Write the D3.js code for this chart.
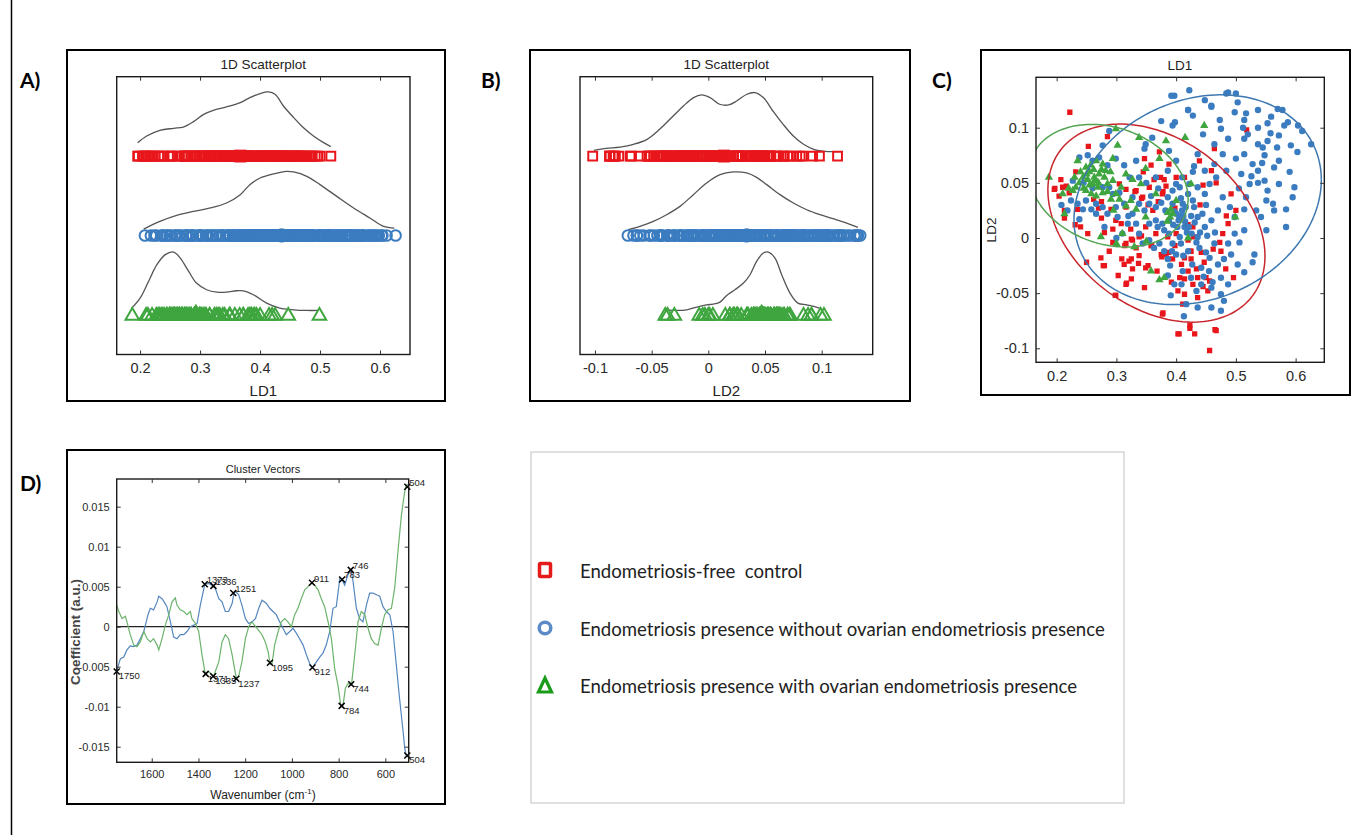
<!DOCTYPE html>
<html>
<head>
<meta charset="utf-8">
<script src="https://cdn.jsdelivr.net/npm/d3@7"></script>
<style>
  body { margin: 0; background: #fff; }
  svg { display: block; }
  text { font-family: "Liberation Sans", Arial, sans-serif; }
</style>
</head>
<body>
<svg id="fig" width="1354" height="835"></svg>
<script>
// ---- data ----
const groupNames = ['Endometriosis-free  control',
  'Endometriosis presence without ovarian endometriosis presence',
  'Endometriosis presence with ovarian endometriosis presence']

// LD scores [LD1, LD2] per class
const redLD = [[0.222,0.114],[0.196,0.044],[0.207,0.053],[0.210,0.046],[0.216,0.047],[0.221,0.041],[0.204,0.038],[0.232,0.060],[0.235,0.026],[0.213,0.025],[0.252,0.004],[0.280,0.005],[0.274,-0.018],[0.280,-0.025],[0.299,-0.052],[0.316,-0.042],[0.313,-0.024],[0.321,-0.021],[0.327,-0.028],[0.338,-0.016],[0.349,-0.027],[0.347,-0.045],[0.316,-0.005],[0.308,0.013],[0.299,0.016],[0.294,0.008],[0.291,0.026],[0.305,0.049],[0.316,0.044],[0.333,0.043],[0.344,0.037],[0.355,0.046],[0.363,0.053],[0.374,0.055],[0.380,0.053],[0.383,0.047],[0.347,0.072],[0.358,0.066],[0.372,0.078],[0.388,0.067],[0.400,0.055],[0.377,0.040],[0.361,0.025],[0.349,0.010],[0.366,0.004],[0.375,-0.015],[0.383,-0.015],[0.394,-0.019],[0.386,0.001],[0.400,0.004],[0.377,-0.069],[0.405,-0.087],[0.327,-0.002],[0.333,-0.009],[0.324,0.008],[0.338,0.001],[0.358,-0.007],[0.294,-0.004],[0.316,0.028],
  [0.518,0.098],[0.464,0.081],[0.439,0.070],[0.414,0.055],[0.459,0.061],[0.467,0.050],[0.484,0.020],[0.487,0.013],[0.478,0.004],[0.473,-0.004],[0.492,0.040],[0.428,0.010],[0.420,-0.002],[0.425,-0.012],[0.414,-0.018],[0.409,-0.024],[0.425,-0.019],[0.420,-0.030],[0.434,-0.028],[0.450,-0.036],[0.456,-0.039],[0.445,-0.044],[0.453,-0.048],[0.436,-0.054],[0.414,-0.051],[0.411,-0.060],[0.423,-0.079],[0.431,-0.087],[0.403,-0.087],[0.467,-0.084],[0.456,-0.102],[0.496,-0.036],[0.475,-0.012],[0.423,-0.012],[0.406,-0.036],[0.403,-0.048],[0.414,-0.037],[0.436,-0.036],[0.428,-0.042],[0.442,-0.013],
  [0.197,0.045],[0.213,0.018],[0.231,0.012],[0.250,-0.022],[0.278,-0.025],[0.303,-0.034],[0.298,-0.052],[0.317,-0.041],[0.325,-0.037],[0.353,-0.025],[0.378,-0.068],[0.423,-0.082],[0.465,-0.083],[0.331,0.042],[0.342,0.036],[0.353,0.030],[0.370,0.033],[0.378,0.042],[0.398,0.027],[0.409,0.018],[0.420,0.012],[0.429,0.001],[0.398,-0.007],[0.387,-0.013],[0.376,-0.017],[0.359,-0.007],[0.342,0.002],[0.325,-0.001],[0.314,-0.007],[0.309,-0.019],[0.325,-0.019],[0.337,-0.023],[0.270,0.027],[0.275,0.033],[0.275,0.018],[0.253,0.083],[0.285,0.092],[0.440,0.030],[0.500,0.025],
  [0.240,0.010],[0.262,0.035],[0.288,-0.012],[0.345,0.060],[0.368,-0.030],[0.392,-0.040],[0.447,-0.022],[0.462,-0.010],[0.483,-0.028],[0.445,0.048]]

const blueLD = [[0.397,0.129],[0.375,0.106],[0.394,0.102],[0.288,0.097],[0.277,0.084],[0.299,0.072],[0.271,0.073],[0.260,0.070],[0.252,0.075],[0.238,0.073],[0.285,0.066],[0.313,0.066],[0.333,0.070],[0.349,0.085],[0.360,0.091],[0.347,0.081],[0.388,0.079],[0.400,0.070],[0.386,0.061],[0.366,0.055],[0.338,0.055],[0.322,0.055],[0.305,0.041],[0.294,0.040],[0.288,0.046],[0.277,0.046],[0.266,0.031],[0.249,0.034],[0.235,0.031],[0.244,0.026],[0.224,0.034],[0.227,0.052],[0.218,0.025],[0.266,0.022],[0.277,0.028],[0.285,0.022],[0.299,0.028],[0.313,0.031],[0.327,0.037],[0.338,0.031],[0.347,0.025],[0.355,0.031],[0.366,0.028],[0.375,0.032],[0.386,0.037],[0.394,0.043],[0.400,0.049],[0.394,0.031],[0.400,0.022],[0.388,0.016],[0.377,0.013],[0.366,0.016],[0.355,0.013],[0.333,0.013],[0.319,0.013],[0.310,0.004],[0.302,0.019],[0.327,0.022],[0.338,0.004],[0.344,-0.005],[0.355,-0.002],[0.363,-0.009],[0.372,-0.005],[0.380,-0.012],[0.386,-0.019],[0.394,-0.005],[0.400,-0.015],[0.388,0.004],[0.380,0.007],[0.386,-0.034],[0.397,-0.042],[0.391,-0.052],[0.238,0.017],[0.258,0.026],[0.208,0.030],
  [0.422,0.134],[0.484,0.131],[0.500,0.131],[0.503,0.123],[0.459,0.119],[0.420,0.116],[0.428,0.111],[0.498,0.114],[0.517,0.113],[0.537,0.116],[0.570,0.117],[0.578,0.116],[0.559,0.110],[0.581,0.102],[0.587,0.105],[0.604,0.102],[0.626,0.085],[0.537,0.100],[0.512,0.100],[0.520,0.094],[0.475,0.099],[0.445,0.094],[0.487,0.090],[0.537,0.085],[0.545,0.082],[0.553,0.088],[0.572,0.093],[0.569,0.082],[0.572,0.070],[0.564,0.064],[0.590,0.060],[0.548,0.075],[0.528,0.067],[0.514,0.076],[0.500,0.072],[0.478,0.076],[0.464,0.067],[0.448,0.061],[0.428,0.060],[0.509,0.058],[0.523,0.049],[0.537,0.050],[0.572,0.049],[0.598,0.046],[0.595,0.037],[0.553,0.043],[0.551,0.034],[0.562,0.031],[0.564,0.025],[0.584,0.010],[0.551,0.007],[0.531,-0.015],[0.528,-0.022],[0.514,-0.031],[0.503,-0.024],[0.492,-0.015],[0.487,-0.005],[0.506,-0.004],[0.514,0.007],[0.498,0.019],[0.514,0.026],[0.534,0.025],[0.470,0.025],[0.459,0.016],[0.448,0.010],[0.436,0.001],[0.464,-0.005],[0.480,-0.019],[0.456,-0.018],[0.470,-0.024],[0.475,-0.036],[0.487,-0.042],[0.459,-0.045],[0.475,-0.051],[0.480,-0.057],[0.459,-0.063],[0.436,-0.063],[0.475,-0.066],[0.417,-0.060],[0.425,-0.036],[0.442,-0.027],[0.428,0.034],[0.411,0.031],[0.406,0.046],[0.422,0.049],[0.436,0.046],[0.448,0.040],[0.456,0.049],[0.436,0.019],[0.414,0.010],[0.406,0.001],[0.420,-0.012],[0.439,-0.009],[0.450,-0.013],[0.411,-0.030],[0.409,-0.042],[0.442,-0.042],[0.434,-0.048],[0.498,0.004],[0.542,0.019],[0.517,0.037],[0.478,0.037],[0.467,0.055],[0.484,0.061],[0.537,0.061],[0.548,0.052],[0.584,0.026],[0.514,0.090],[0.464,0.085],[0.436,0.076],[0.473,0.107],[0.514,0.107],[0.553,0.104],[0.413,-0.071],
  [0.405,0.020],[0.410,0.025],[0.415,0.015],[0.418,0.005],[0.402,0.010],[0.395,0.012],[0.408,-0.005],[0.425,0.020],[0.430,0.028],[0.420,0.040],[0.410,0.055],[0.430,0.065],[0.450,0.030],[0.440,0.005],[0.455,-0.030],[0.465,0.005],[0.390,-0.025],[0.370,0.045],[0.350,0.050],[0.320,0.020],[0.300,0.000],[0.280,0.010],[0.260,0.045],[0.245,0.050],[0.392,0.129],[0.398,0.105],[0.420,0.116],[0.448,0.125],[0.459,0.120],[0.487,0.132],[0.611,0.097],[0.603,0.078],
  [0.404,0.016],[0.412,0.020],[0.416,0.028],[0.421,0.010],[0.426,0.004],[0.397,0.024],[0.408,0.036],[0.431,0.014],[0.434,-0.004],[0.444,0.022],[0.452,0.002],[0.393,-0.012],[0.412,-0.016],[0.427,-0.024],[0.446,-0.035],[0.461,-0.040],[0.490,0.028],[0.505,0.045],[0.526,0.056],[0.544,0.068],[0.558,0.095],[0.592,0.084],[0.382,0.025],[0.369,0.010],[0.358,0.038]]

const greenLD = [[0.187,0.055],[0.235,0.070],[0.249,0.064],[0.257,0.066],[0.266,0.070],[0.277,0.067],[0.282,0.061],[0.294,0.072],[0.302,0.084],[0.299,0.099],[0.338,0.091],[0.383,0.088],[0.372,0.072],[0.349,0.063],[0.341,0.049],[0.327,0.053],[0.316,0.058],[0.308,0.046],[0.299,0.040],[0.291,0.035],[0.277,0.041],[0.269,0.046],[0.260,0.049],[0.252,0.053],[0.244,0.055],[0.238,0.050],[0.232,0.046],[0.227,0.043],[0.255,0.060],[0.263,0.055],[0.271,0.058],[0.280,0.055],[0.285,0.049],[0.294,0.052],[0.266,0.038],[0.249,0.043],[0.213,0.022],[0.274,0.001],[0.316,0.029],[0.324,0.034],[0.333,0.026],[0.349,0.019],[0.366,0.040],[0.386,0.023],[0.391,0.026],[0.394,0.022],[0.358,-0.030],[0.380,-0.036],[0.400,0.034],[0.447,0.102],[0.415,0.091],[0.499,0.019],[0.425,0.049],
  [0.245,0.045],[0.255,0.048],[0.262,0.062],[0.270,0.050],[0.275,0.062],[0.258,0.040],[0.240,0.060],[0.230,0.055],[0.285,0.042],[0.290,0.060],[0.250,0.058],[0.265,0.052],[0.220,0.045],[0.210,0.040],[0.295,0.025],[0.305,0.035],[0.390,0.019],[0.385,0.015],[0.300,-0.005],[0.420,0.000],[0.330,-0.008],[0.350,-0.003],[0.310,0.004],[0.372,-0.038]]

// group means [LD1, LD2]
const meanLD = [[0.367, 0.0138], [0.436, 0.0338], [0.293, 0.047]]

// density curves: [score, height above the strip]
const densLD1 = [
  [[0.196,0.169],[0.211,0.253],[0.233,0.325],[0.256,0.350],[0.272,0.366],[0.289,0.434],[0.306,0.526],[0.322,0.577],[0.344,0.619],[0.367,0.674],[0.383,0.737],[0.400,0.788],[0.414,0.808],[0.425,0.779],[0.439,0.631],[0.456,0.485],[0.472,0.359],[0.489,0.253],[0.506,0.169],[0.518,0.119]],
  [[0.206,0.080],[0.233,0.177],[0.261,0.253],[0.289,0.303],[0.317,0.346],[0.344,0.409],[0.367,0.514],[0.383,0.640],[0.400,0.724],[0.422,0.775],[0.444,0.808],[0.456,0.800],[0.478,0.745],[0.500,0.640],[0.528,0.492],[0.556,0.346],[0.583,0.220],[0.606,0.114],[0.624,0.093]],
  [[0.186,0.084],[0.200,0.210],[0.214,0.420],[0.228,0.631],[0.242,0.758],[0.256,0.791],[0.267,0.715],[0.281,0.547],[0.294,0.400],[0.311,0.316],[0.328,0.286],[0.344,0.286],[0.361,0.303],[0.372,0.303],[0.389,0.253],[0.411,0.147],[0.433,0.084],[0.456,0.063],[0.478,0.055],[0.497,0.055]]]
const densLD2 = [
  [[-0.101,0.072],[-0.090,0.097],[-0.078,0.114],[-0.066,0.148],[-0.054,0.211],[-0.043,0.337],[-0.031,0.505],[-0.022,0.631],[-0.013,0.737],[-0.006,0.770],[0.0015,0.737],[0.010,0.653],[0.018,0.644],[0.025,0.694],[0.034,0.779],[0.041,0.800],[0.0485,0.737],[0.057,0.568],[0.066,0.400],[0.075,0.253],[0.084,0.148],[0.093,0.085],[0.101,0.063],[0.112,0.055]],
  [[-0.0706,0.072],[-0.0603,0.114],[-0.0485,0.177],[-0.0368,0.261],[-0.025,0.366],[-0.0132,0.514],[-0.0015,0.661],[0.0103,0.766],[0.022,0.800],[0.0338,0.787],[0.0426,0.732],[0.0515,0.640],[0.0632,0.514],[0.075,0.409],[0.0868,0.324],[0.0985,0.261],[0.110,0.211],[0.122,0.156],[0.132,0.101]],
  [[-0.0368,0.063],[-0.028,0.055],[-0.019,0.063],[-0.0103,0.097],[-0.0015,0.126],[0.0044,0.135],[0.0103,0.160],[0.0162,0.244],[0.0235,0.316],[0.031,0.400],[0.0368,0.505],[0.0426,0.673],[0.0485,0.779],[0.053,0.791],[0.0588,0.715],[0.0647,0.505],[0.072,0.274],[0.079,0.147],[0.0868,0.126],[0.093,0.105],[0.100,0.076]]]

// confidence ellipses: centre, half-width, half-height, LD2 offset at rightmost point
const ellCentre = [[0.367, 0.0135], [0.436, 0.0347], [0.287, 0.0474]]
const ellRx = [0.1817, 0.207, 0.133]
const ellRy = [0.0898, 0.0951, 0.0556]
const ellDy = [-0.03, 0.018, -0.012]

// cluster vectors [wavenumber, coefficient]
const blueSpec = [[1750,-0.0055],[1734,-0.0040],[1720,-0.0038],[1706,-0.0029],[1692,-0.0024],[1677,-0.0025],[1663,-0.0023],[1649,-0.0015],[1634,-0.0006],[1627,0.0002],[1616,0.0015],[1606,0.0023],[1592,0.0021],[1577,0.0031],[1570,0.0038],[1556,0.0035],[1549,0.0032],[1535,0.0025],[1520,0.0006],[1506,-0.0013],[1492,-0.0015],[1478,-0.0010],[1463,-0.0010],[1449,-0.0006],[1435,0.0000],[1420,0.0002],[1406,0.0004],[1392,0.0027],[1373,0.0053],[1356,0.0054],[1342,0.0052],[1328,0.0048],[1313,0.0035],[1299,0.0031],[1285,0.0019],[1271,0.0019],[1256,0.0029],[1248,0.0042],[1242,0.0044],[1228,0.0040],[1214,0.0027],[1199,0.0010],[1185,0.0004],[1171,0.0006],[1156,0.0010],[1142,0.0023],[1128,0.0033],[1109,0.0029],[1095,0.0023],[1081,0.0019],[1067,0.0015],[1052,0.0006],[1038,-0.0002],[1024,-0.0010],[1009,-0.0006],[995,-0.0002],[981,-0.0008],[967,-0.0015],[952,-0.0023],[938,-0.0035],[924,-0.0046],[912,-0.0051],[895,-0.0044],[881,-0.0038],[867,-0.0033],[853,-0.0023],[838,-0.0006],[824,0.0023],[810,0.0025],[795,0.0060],[788,0.0060],[774,0.0052],[760,0.0065],[746,0.0071],[738,0.0056],[724,0.0023],[710,0.0010],[696,0.0006],[681,0.0027],[667,0.0042],[653,0.0042],[638,0.0040],[624,0.0038],[610,0.0025],[596,0.0019],[581,0.0015],[567,-0.0006],[553,-0.0048],[539,-0.0090],[524,-0.0131],[517,-0.0152],[510,-0.0162],[504,-0.0163]]
const greenSpec = [[1750,0.0027],[1741,0.0019],[1727,0.0010],[1713,0.0013],[1706,0.0006],[1692,-0.0010],[1677,-0.0023],[1663,-0.0025],[1649,-0.0019],[1634,-0.0006],[1620,-0.0015],[1606,-0.0019],[1592,-0.0015],[1577,-0.0023],[1570,-0.0029],[1556,-0.0015],[1542,0.0002],[1527,0.0015],[1513,0.0031],[1499,0.0036],[1492,0.0027],[1478,0.0021],[1463,0.0019],[1449,0.0015],[1435,0.0019],[1428,0.0010],[1413,0.0004],[1399,-0.0006],[1385,-0.0035],[1371,-0.0059],[1356,-0.0056],[1342,-0.0060],[1335,-0.0062],[1328,-0.0056],[1313,-0.0044],[1299,-0.0019],[1285,-0.0010],[1271,-0.0015],[1256,-0.0035],[1242,-0.0058],[1237,-0.0065],[1228,-0.0062],[1214,-0.0044],[1199,-0.0015],[1185,0.0000],[1171,0.0006],[1149,-0.0002],[1128,-0.0010],[1114,-0.0019],[1102,-0.0031],[1093,-0.0047],[1085,-0.0046],[1074,-0.0023],[1059,-0.0006],[1045,0.0006],[1031,0.0010],[1017,0.0006],[1002,0.0000],[988,0.0015],[974,0.0023],[960,0.0035],[945,0.0046],[931,0.0050],[917,0.0055],[902,0.0052],[888,0.0046],[874,0.0035],[860,0.0025],[845,0.0006],[831,-0.0015],[817,-0.0052],[803,-0.0073],[791,-0.0098],[781,-0.0098],[771,-0.0077],[760,-0.0071],[745,-0.0073],[731,-0.0035],[717,0.0006],[703,0.0019],[688,0.0015],[674,-0.0002],[660,-0.0015],[646,-0.0021],[631,-0.0023],[617,-0.0002],[603,0.0015],[589,0.0021],[574,0.0023],[560,0.0048],[546,0.0094],[531,0.0140],[517,0.0169],[510,0.0177],[504,0.0178]]
const blueMarks = [[1750,-0.0056,'1750'],[1373,0.0053,'1373'],[1336,0.0051,'1336'],[1251,0.0042,'1251'],[912,-0.0051,'912'],[785,0.0059,'783'],[748,0.0071,'746'],[506,-0.0161,'504']]
const greenMarks = [[1369,-0.0059,'1371'],[1337,-0.0062,'1335'],[1238,-0.0065,'1237'],[1094,-0.0045,'1095'],[914,0.0055,'911'],[787,-0.0099,'784'],[746,-0.0072,'744'],[506,0.0175,'504']]

const ld1Ticks = [0.2, 0.3, 0.4, 0.5, 0.6]
const ld2Ticks = [-0.1, -0.05, 0, 0.05, 0.1]
const wnTicks = [1600, 1400, 1200, 1000, 800, 600]
const coefTicks = [-0.015, -0.01, -0.005, 0, 0.005, 0.01, 0.015]

// ---- drawing ----
const markColor = ['#e8161b', '#3b7cc0', '#3fa63f']
const ellColor = ['#c8262c', '#3d78b0', '#52a452']
const specColor = ['#5587bf', '#6cb36c']
const symbols = [d3.symbolSquare, d3.symbolCircle, d3.symbolTriangle]
const groupPos = [3, 2, 1]
const classes = [redLD, blueLD, greenLD]
const tickFmt = d => String(+d.toFixed(3))

const svg = d3.select('#fig')
svg.append('rect').attr('width', 1354).attr('height', 835).attr('fill', '#fff')
svg.append('line').attr('x1', 11.5).attr('x2', 11.5).attr('y1', 0).attr('y2', 835)
  .attr('stroke', '#000').attr('stroke-width', 1.5)

function outerBox(x0, y0, x1, y1) {
  svg.append('rect').attr('x', x0).attr('y', y0).attr('width', x1 - x0).attr('height', y1 - y0)
    .attr('fill', 'none').attr('stroke', '#000').attr('stroke-width', 2)
}

function letter(t, x, y) {
  svg.append('text').attr('x', x).attr('y', y).text(t)
    .style('font-family', 'Lato, sans-serif').style('font-weight', 700).style('font-size', '21px')
}

function innerBox(x, y) {
  const [x0, x1] = x.range(), [y1, y0] = y.range()
  svg.append('rect').attr('x', x0).attr('y', y0).attr('width', x1 - x0).attr('height', y1 - y0)
    .attr('fill', 'none').attr('stroke', '#1a1a1a').attr('stroke-width', 1.4)
}

function xAxes(x, y, ticks, fmt, fontSize) {
  const [y1, y0] = y.range()
  const bottom = svg.append('g').attr('transform', `translate(0,${y1})`)
    .call(d3.axisBottom(x).tickValues(ticks).tickSize(-4).tickPadding(8).tickFormat(fmt))
  bottom.select('.domain').remove()
  bottom.selectAll('text').style('font-size', fontSize).attr('fill', '#2a2a2a')
  bottom.selectAll('line').attr('stroke', '#333')
  const top = svg.append('g').attr('transform', `translate(0,${y0})`)
    .call(d3.axisTop(x).tickValues(ticks).tickSize(-4).tickFormat(''))
  top.select('.domain').remove()
  top.selectAll('line').attr('stroke', '#333')
}

function yAxes(x, y, ticks, fmt, fontSize) {
  const [x0, x1] = x.range()
  const left = svg.append('g').attr('transform', `translate(${x0},0)`)
    .call(d3.axisLeft(y).tickValues(ticks).tickSize(-4).tickPadding(7).tickFormat(fmt))
  left.select('.domain').remove()
  left.selectAll('text').style('font-size', fontSize).attr('fill', '#2a2a2a')
  left.selectAll('line').attr('stroke', '#333')
  const right = svg.append('g').attr('transform', `translate(${x1},0)`)
    .call(d3.axisRight(y).tickValues(ticks).tickSize(-4).tickFormat(''))
  right.select('.domain').remove()
  right.selectAll('line').attr('stroke', '#333')
}

function label(t, x, y, size, rotate) {
  const el = svg.append('text').attr('text-anchor', 'middle').attr('fill', '#222')
    .style('font-size', size).text(t)
  if (rotate) el.attr('transform', `translate(${x},${y}) rotate(-90)`)
  else el.attr('x', x).attr('y', y)
  return el
}

// 1D scatter panel (A and B)
function stripPanel(x, key, dens, xlab) {
  const y = d3.scaleLinear().domain([0.5, 4]).range([354.5, 76.7])
  const [x0, x1] = x.range()
  label('1D Scatterplot', (x0 + x1) / 2, 69, '13.5px')
  const sizes = [78, 88, 80]
  classes.forEach((pts, i) => {
    const base = groupPos[i]
    svg.append('path').datum(dens[i])
      .attr('fill', 'none').attr('stroke', '#555').attr('stroke-width', 1.3)
      .attr('d', d3.line().curve(d3.curveCatmullRom).x(d => x(d[0])).y(d => y(base + d[1])))
    svg.append('g').selectAll('path').data(pts).join('path')
      .attr('transform', d => `translate(${x(d[key])},${y(base) + (i === 2 ? 1 : 0)})`)
      .attr('d', d3.symbol(symbols[i], sizes[i]))
      .attr('fill', 'none').attr('stroke', markColor[i]).attr('stroke-width', 2)
  })
  classes.forEach((pts, i) => {
    svg.append('path')
      .attr('transform', `translate(${x(meanLD[i][key])},${y(groupPos[i])})`)
      .attr('d', d3.symbol(symbols[i], 140))
      .attr('fill', markColor[i]).attr('stroke', markColor[i])
  })
  innerBox(x, y)
  xAxes(x, y, key === 0 ? ld1Ticks : ld2Ticks, tickFmt, '14.5px')
  label(xlab, (x0 + x1) / 2, 396, '15px')
}

// Panel A
outerBox(67, 50, 445, 401)
letter('A)', 20, 88)
stripPanel(d3.scaleLinear().domain([0.161, 0.65]).range([116.7, 410]), 0, densLD1, 'LD1')

// Panel B
outerBox(530, 50, 910, 401)
letter('B)', 481, 88)
stripPanel(d3.scaleLinear().domain([-0.1132, 0.145]).range([580, 872.7]), 1, densLD2, 'LD2')

// Panel C
outerBox(981, 50, 1350, 395)
letter('C)', 932, 88)
{
  const x = d3.scaleLinear().domain([0.1654, 0.648]).range([1036, 1324.3])
  const y = d3.scaleLinear().domain([-0.1127, 0.1457]).range([362.3, 77.3])
  svg.append('clipPath').attr('id', 'clipC').append('rect')
    .attr('x', 1036).attr('y', 77.3).attr('width', 288.3).attr('height', 285)
  const g = svg.append('g').attr('clip-path', 'url(#clipC)')
  const sizes = [28, 32, 30]
  classes.forEach((pts, i) => {
    g.append('g').selectAll('path').data(pts).join('path')
      .attr('transform', d => `translate(${x(d[0])},${y(d[1])})`)
      .attr('d', d3.symbol(symbols[i], sizes[i]))
      .attr('fill', markColor[i])
  })
  const ts = d3.range(0, 2 * Math.PI + 0.01, Math.PI / 90)
  ellCentre.forEach((c, i) => {
    const k = Math.sqrt(ellRy[i] * ellRy[i] - ellDy[i] * ellDy[i])
    g.append('path').datum(ts)
      .attr('fill', 'none').attr('stroke', ellColor[i]).attr('stroke-width', 1.5)
      .attr('d', d3.line()
        .x(t => x(c[0] + ellRx[i] * Math.cos(t)))
        .y(t => y(c[1] + ellDy[i] * Math.cos(t) + k * Math.sin(t))))
  })
  innerBox(x, y)
  xAxes(x, y, ld1Ticks, tickFmt, '14.5px')
  yAxes(x, y, ld2Ticks, tickFmt, '14.5px')
  label('LD1', 1180, 70, '13.5px')
  label('LD2', 996, 230, '13.5px', true)
}

// Panel D
outerBox(67, 450, 445, 804)
letter('D)', 20, 491)
{
  const x = d3.scaleLinear().domain([1750, 500]).range([116.7, 408.7])
  const y = d3.scaleLinear().domain([-0.01695, 0.01846]).range([762.3, 479])
  svg.append('line').attr('x1', x.range()[0]).attr('x2', x.range()[1])
    .attr('y1', y(0)).attr('y2', y(0)).attr('stroke', '#222').attr('stroke-width', 1.3)
  ;[blueSpec, greenSpec].forEach((s, i) => {
    svg.append('path').datum(s)
      .attr('fill', 'none').attr('stroke', specColor[i]).attr('stroke-width', 1.2)
      .attr('d', d3.line().x(d => x(d[0])).y(d => y(d[1])))
  })
  const marks = svg.append('g')
  ;[blueMarks, greenMarks].forEach(list => {
    list.forEach(m => {
      const px = x(m[0]), py = y(m[1])
      marks.append('path').attr('d', `M${px - 3},${py - 3}L${px + 3},${py + 3}M${px - 3},${py + 3}L${px + 3},${py - 3}`)
        .attr('stroke', '#000').attr('stroke-width', 1.5)
      marks.append('text').attr('x', px + 2).attr('y', m[1] > 0 ? py - 1 : py + 8)
        .style('font-size', '9.5px').attr('fill', '#222').text(m[2])
    })
  })
  innerBox(x, y)
  xAxes(x, y, wnTicks, d3.format('d'), '11px')
  yAxes(x, y, coefTicks, tickFmt, '11px')
  label('Cluster Vectors', 263, 473, '11px')
  const xl = label('Wavenumber (cm', 263, 799, '12px')
  xl.append('tspan').attr('dy', -5).style('font-size', '8px').text('-1')
  xl.append('tspan').attr('dy', 5).text(')')
  label('Coefficient (a.u.)', 80, 632, '13.5px', true).style('font-weight', 700).attr('fill', '#444')
}

// Legend
svg.append('rect').attr('x', 531).attr('y', 452).attr('width', 593).attr('height', 351)
  .attr('fill', 'none').attr('stroke', '#cfcfcf').attr('stroke-width', 1.3)
const legendY = [570, 628, 685]
const legendColor = ['#e51b1b', '#5a8bc6', '#1a9b1a']
svg.append('rect').attr('x', 539.5).attr('y', legendY[0] - 6.5).attr('width', 11).attr('height', 13)
  .attr('rx', 1).attr('fill', 'none').attr('stroke', legendColor[0]).attr('stroke-width', 3.5)
svg.append('circle').attr('cx', 545).attr('cy', legendY[1]).attr('r', 5.8)
  .attr('fill', 'none').attr('stroke', legendColor[1]).attr('stroke-width', 3.5)
svg.append('path').attr('d', `M538.5,${legendY[2] + 7}L551.5,${legendY[2] + 7}L545,${legendY[2] - 7}Z`)
  .attr('fill', 'none').attr('stroke', legendColor[2]).attr('stroke-width', 3.2).attr('stroke-linejoin', 'miter')
const legTexts = groupNames.map((t, i) => svg.append('text')
  .attr('x', 580).attr('y', legendY[i] + 8).attr('fill', '#222')
  .style('font-family', 'Lato, sans-serif').style('font-size', '18px')
  .style('white-space', 'pre').attr('xml:space', 'preserve').text(t))
const w = legTexts[1].node().getComputedTextLength()
const fs = 18 * 525 / w
legTexts.forEach(t => t.style('font-size', fs.toFixed(2) + 'px'))
</script>
</body>
</html>
